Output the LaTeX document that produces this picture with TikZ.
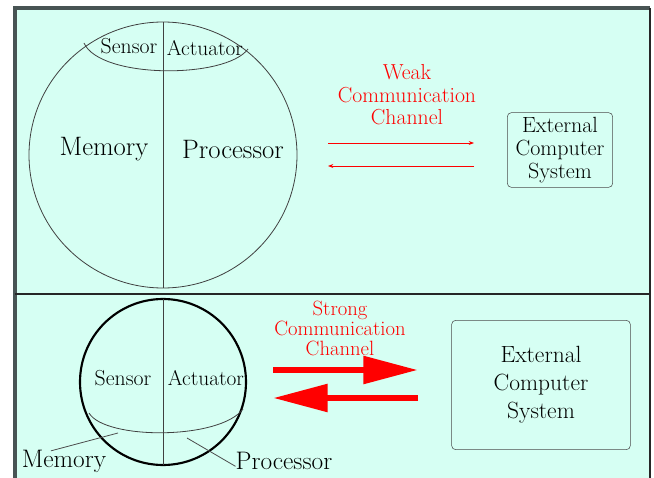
\documentclass[tikz,border=0pt]{standalone}
\usetikzlibrary{arrows.meta, positioning}
\definecolor{panel}{RGB}{214,255,243}
\definecolor{rim}{RGB}{72,84,84}
\tikzset{
  txt/.style={inner sep=0pt, font=\fontsize{#1}{#1}\selectfont},
  redtxt/.style={inner sep=0pt, text=red, align=center, font=\fontsize{#1}{#1}\selectfont},
  ext/.style={draw=black!70, rounded corners=3pt, align=center, inner sep=0pt},
  weak/.style={-{Stealth[length=4pt, width=3pt]}, red, line width=0.7pt},
  strong/.style={-{Triangle[length=41pt, width=20pt]}, red, line width=5pt},
}

\begin{document}
\begin{tikzpicture}[x=0.75pt, y=-0.75pt]
    \useasboundingbox (0,0) rectangle (654,478);
    % frame
    \fill[panel] (15,8) rectangle (650,478);
    \draw[rim, line width=3pt] (15,478) -- (15,8) -- (650,8);
    \draw[black!85, line width=1.6pt] (650,8) -- (650,478);
    \draw[black!85, line width=1.4pt] (15,294) -- (650,294);

    % upper panel: agent with weak channel
    \draw[black!75, line width=0.6pt] (163,155) ellipse [x radius=134, y radius=133];
    \draw[black!75, line width=0.6pt] (163,22) -- (163,288);
    \draw[black!75, line width=0.6pt] (84,43) .. controls (100,79) and (226,79) .. (248,49);
    \node[txt=16.3] (tsens) at (129,46) {Sensor};
    \node[txt=16] (tact) at (205,48) {Actuator};
    \node[txt=20] (tmem) at (104,149) {Memory};
    \node[txt=20] (tproc) at (233,149) {Processor};

    \node[redtxt=16.3, font=\fontsize{16.3}{16.8}\selectfont] (wlbl) at (407,95) {Weak\\Communication\\Channel};
    \node[ext, minimum width=79pt, minimum height=56pt, font=\fontsize{16.5}{17}\selectfont] (text) at (560,150) {External\\Computer\\System};
    \coordinate (wl) at (328,143);
    \coordinate (wr) at (474,143);
    \coordinate (wl2) at (328,166);
    \coordinate (wr2) at (474,166);
    \draw[weak] (wl) -- (wr);
    \draw[weak] (wr2) -- (wl2);

    % lower panel: agent with strong channel
    \draw[black, line width=1.6pt] (163,382) circle [radius=83];
    \draw[black!75, line width=0.6pt] (163,299) -- (163,465);
    \draw[black!75, line width=0.6pt] (89,413) .. controls (105,440) and (220,440) .. (243,409);
    \node[txt=16.3] (bsens) at (123,378) {Sensor};
    \node[txt=16] (bact) at (206,378) {Actuator};
    \node[txt=19] (bmem) at (64,461) {Memory};
    \node[txt=19] (bproc) at (284,461) {Processor};
    \coordinate (memtip) at (118,433);
    \coordinate (proctip) at (187,438);
    \draw[black!70, line width=0.6pt] (memtip) -- ([xshift=22pt, yshift=-1pt]bmem.north west);
    \draw[black!70, line width=0.6pt] (proctip) -- ([yshift=-4pt]bproc.west);

    \node[redtxt=15.5, font=\fontsize{15.5}{15}\selectfont] (slbl) at (340,328) {Strong\\Communication\\Channel};
    \node[ext, minimum width=134pt, minimum height=97pt, font=\fontsize{17.6}{21}\selectfont] (bext) at (541,385) {External\\Computer\\System};
    \coordinate (sl) at (273,370);
    \coordinate (sr) at (418,370);
    \coordinate (sl2) at (273,398);
    \coordinate (sr2) at (418,398);
    \draw[strong] (sl) -- (sr);
    \draw[strong] (sr2) -- (sl2);
  \end{tikzpicture}
\end{document}
